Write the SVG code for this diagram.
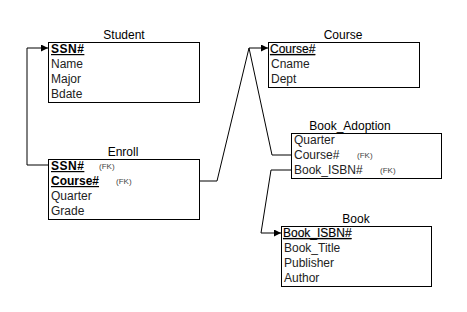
<svg xmlns="http://www.w3.org/2000/svg" width="467" height="312" viewBox="0 0 467 312">
  <style>
    .box { fill: #fff; stroke: #000; stroke-width: 1; }
    .title { font-family: "Liberation Sans", Arial, sans-serif; font-size: 12px; fill: #000; text-anchor: middle; }
    .row { font-family: "Liberation Sans", Arial, sans-serif; font-size: 12px; fill: #222; }
    .key { font-weight: bold; text-decoration: underline; fill: #000; }
    .pk { text-decoration: underline; fill: #000; stroke: #000; stroke-width: 0.15; }
    .fk { font-family: "Liberation Sans", Arial, sans-serif; font-size: 8px; fill: #444; }
    .link { fill: none; stroke: #000; stroke-width: 1; }
  </style>
  <defs>
    <marker id="arrow" viewBox="0 0 8 8" refX="8" refY="4" markerWidth="7" markerHeight="7" markerUnits="userSpaceOnUse" orient="auto">
      <path d="M0,0 L8,4 L0,8 Z" fill="#000"/>
    </marker>
  </defs>
  <rect width="467" height="312" fill="#fff"/>

  <g id="connectors">
    <polyline class="link" points="48,165 27,165 27,48 48,48" marker-end="url(#arrow)"/>
    <polyline class="link" points="199,181 217,181 249,48 268,48" marker-end="url(#arrow)"/>
    <polyline class="link" points="291,155 272,155 249,48"/>
    <polyline class="link" points="291,170 271,170 261,233 281,233" marker-end="url(#arrow)"/>
  </g>

  <g id="student">
    <text class="title" x="124" y="39">Student</text>
    <rect class="box" x="48.5" y="42.5" width="151" height="60"/>
    <text class="row key" x="51" y="53" letter-spacing="0.5">SSN#</text>
    <text class="row" x="51" y="68">Name</text>
    <text class="row" x="51" y="83">Major</text>
    <text class="row" x="51" y="98">Bdate</text>
  </g>

  <g id="course">
    <text class="title" x="343" y="39">Course</text>
    <rect class="box" x="268.5" y="42.5" width="151" height="45"/>
    <text class="row pk" x="270" y="53" font-size="12.5">Course#</text>
    <text class="row" x="271" y="68">Cname</text>
    <text class="row" x="271" y="83">Dept</text>
  </g>

  <g id="enroll">
    <text class="title" x="123" y="156">Enroll</text>
    <rect class="box" x="48.5" y="159.5" width="151" height="60"/>
    <text class="row key" x="51" y="170" letter-spacing="0.5">SSN#</text>
    <text class="fk" x="99" y="169">(FK)</text>
    <text class="row key" x="51" y="185">Course#</text>
    <text class="fk" x="116" y="184">(FK)</text>
    <text class="row" x="51" y="200">Quarter</text>
    <text class="row" x="51" y="215">Grade</text>
  </g>

  <g id="book_adoption">
    <text class="title" x="350" y="130">Book_Adoption</text>
    <rect class="box" x="291.5" y="133.5" width="150" height="45"/>
    <text class="row" x="294" y="144">Quarter</text>
    <text class="row" x="294" y="159">Course#</text>
    <text class="fk" x="357" y="158">(FK)</text>
    <text class="row" x="294" y="174">Book_ISBN#</text>
    <text class="fk" x="380" y="173">(FK)</text>
  </g>

  <g id="book">
    <text class="title" x="356" y="223">Book</text>
    <rect class="box" x="281.5" y="226.5" width="150" height="60"/>
    <text class="row pk" x="283" y="237" font-size="12.5">Book_ISBN#</text>
    <text class="row" x="284" y="252">Book_Title</text>
    <text class="row" x="284" y="267">Publisher</text>
    <text class="row" x="284" y="282">Author</text>
  </g>
</svg>
